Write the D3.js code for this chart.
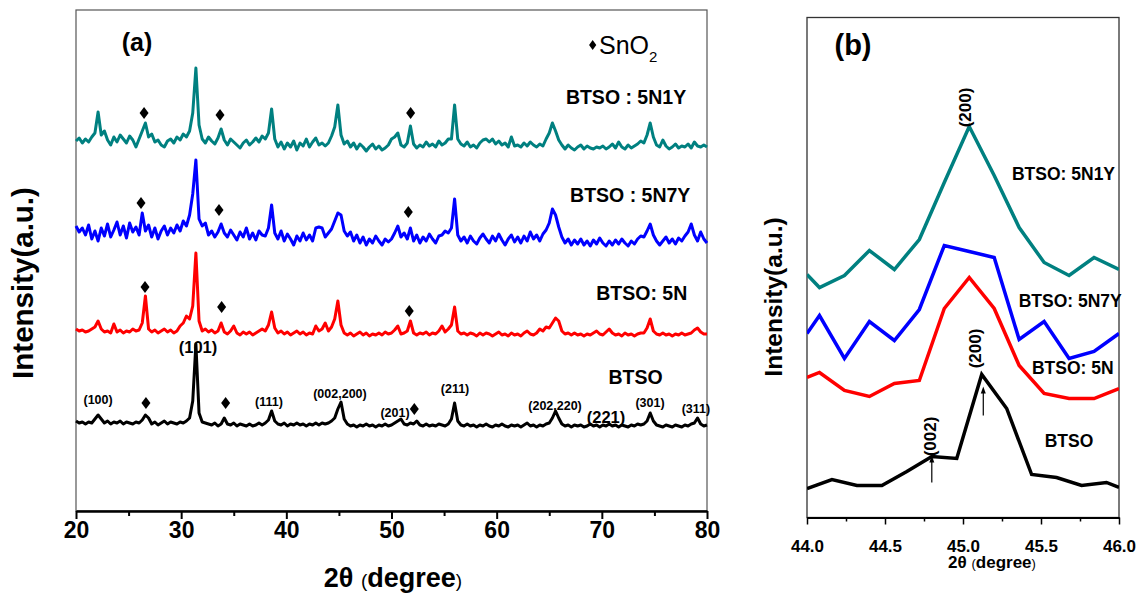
<!DOCTYPE html>
<html>
<head>
<meta charset="utf-8">
<script src="https://cdn.jsdelivr.net/npm/d3@7"></script>
<style>
  body { margin: 0; background: #fff; }
  svg { display: block; font-family: "Liberation Sans", Arial, sans-serif; }
  .narrow { font-family: "Liberation Sans Narrow", "Arial Narrow", "Liberation Sans", sans-serif; }
</style>
</head>
<body>
<svg id="chart" width="1136" height="599"></svg>
<script>
// ---------- panel (a): XRD scans 20-80 deg, step 0.3 deg ----------
const scanStart = 20, scanStep = 0.3;

const series5N1Y = [
  370,373,368,372,369,374,378,399,376,380,371,366,374,369,376,372,368,375,371,364,
  372,380,388,374,377,369,371,366,364,370,372,368,374,371,377,374,380,398,443,386,
  372,368,374,370,367,373,382,371,366,372,369,366,363,368,371,366,369,373,369,375,
  372,378,402,372,364,369,362,368,364,370,361,368,365,372,364,369,373,366,368,365,
  368,375,384,406,376,367,370,364,368,362,367,364,360,364,367,362,365,361,363,366,
  372,374,378,366,364,368,385,367,363,366,364,369,365,367,364,370,366,368,372,372,
  406,372,367,365,369,364,366,363,368,371,372,369,372,367,370,366,368,364,374,365,
  366,364,368,365,369,366,364,367,365,372,378,388,380,371,366,362,366,363,361,364,
  366,362,365,363,362,364,363,365,362,364,367,363,369,364,362,366,363,365,367,370,
  368,376,388,374,366,364,371,365,362,364,367,363,365,364,367,363,369,365,364,366,
  364
];
const series5N7Y = [
  285,279,283,276,286,272,280,270,283,275,287,274,281,289,276,285,273,288,279,284,
  276,298,280,286,274,283,272,280,285,276,283,278,286,280,290,285,296,317,351,292,
  285,288,276,280,274,279,287,278,274,281,276,271,279,274,283,272,278,271,280,276,
  275,283,306,278,272,280,270,277,272,266,275,270,278,271,276,270,283,284,283,274,
  278,282,290,298,296,280,275,279,270,276,268,274,266,272,268,275,270,266,272,269,
  272,278,285,274,278,272,283,270,276,268,274,270,277,272,268,275,276,280,278,283,
  312,276,270,274,268,275,270,267,273,277,272,268,275,270,277,271,266,272,276,269,
  274,268,275,270,279,272,276,270,277,281,288,302,296,284,274,268,272,266,271,267,
  272,266,270,265,271,267,273,268,265,270,266,271,267,272,268,265,270,267,272,275,
  274,280,287,276,270,266,270,274,268,272,267,273,270,275,279,287,276,270,279,272,
  268
];
const series5N = [
  182,180,181,179,180,182,184,190,182,179,180,178,187,179,181,178,180,179,182,180,
  181,188,215,182,179,181,178,180,182,179,181,178,180,185,188,195,192,205,258,190,
  180,182,179,181,178,180,188,179,177,180,185,178,176,179,177,179,176,178,180,182,
  180,186,199,183,178,180,177,179,176,178,180,177,179,176,178,177,185,180,182,188,
  180,184,192,210,186,178,176,178,175,177,179,176,178,175,177,176,178,176,179,177,
  178,181,185,177,178,180,190,178,176,178,177,179,176,178,177,180,185,179,182,186,
  204,180,177,178,176,178,177,175,178,176,178,177,175,177,179,176,177,175,178,176,
  177,175,178,180,177,176,178,182,180,184,183,188,193,190,180,177,178,176,178,176,
  177,175,177,176,178,180,177,176,179,182,178,176,177,175,178,176,177,175,177,178,
  178,183,192,180,177,176,178,176,177,175,177,176,178,176,177,178,181,183,179,177,
  177
];
const seriesBTSO = [
  90,88,89,87,89,88,92,96,92,88,90,87,89,88,90,87,89,88,87,89,
  88,91,96,93,87,89,86,88,90,87,89,88,87,89,88,90,93,110,167,98,
  89,88,87,86,88,85,87,93,87,86,88,85,87,86,85,87,85,86,88,86,
  88,91,100,90,87,86,88,85,87,86,88,86,87,85,87,86,88,86,88,87,
  88,90,93,102,109,92,87,85,86,84,86,85,87,85,86,84,86,85,87,85,
  86,88,90,92,87,86,88,87,90,86,85,87,85,86,85,87,86,85,87,92,
  108,90,86,85,87,85,86,84,86,85,87,85,84,86,85,87,85,84,86,85,
  86,84,86,88,85,86,84,86,85,87,88,93,100,93,87,85,86,84,86,85,
  86,84,85,87,85,86,84,86,85,87,85,86,84,86,85,84,86,85,87,86,
  87,90,98,90,86,85,84,86,85,84,86,85,84,86,85,87,88,93,87,85,
  86
];

const seriesNames = ["BTSO : 5N1Y", "BTSO : 5N7Y", "BTSO: 5N", "BTSO"];
const seriesColors = ["#008080", "#0000ff", "#ff0000", "#000000"];
const nameAngles = [72.3, 72.7, 73.8, 73.2];
const nameLevels = [414, 316, 218, 134];

// SnO2 markers (diamonds)
const snAngles = [26.47, 33.69, 51.82, 26.18, 33.6, 51.6, 26.56, 33.85, 51.69, 26.65, 34.23, 52.17];
const snLevels = [398, 396, 398, 308, 301, 299, 224, 204, 200, 108, 108, 102];

// Miller indices on the BTSO pattern
const hklLabels = ["(100)", "(101)", "(111)", "(002,200)", "(201)", "(211)", "(202,220)", "(221)", "(301)", "(311)"];
const hklAngles = [22.1, 31.6, 38.35, 45.1, 50.33, 56.04, 65.55, 70.4, 74.58, 78.95];
const hklLevels = [111, 164, 109, 117, 98, 122, 105, 94, 108, 102];
const hklBig = [false, true, false, false, false, false, false, true, false, false];

const xTicksA = [20, 30, 40, 50, 60, 70, 80];
const xMinorA = [25, 35, 45, 55, 65, 75];

// ---------- panel (b): zoom on the (200) reflection ----------
const zoomAngles = [44.0, 44.08, 44.24, 44.40, 44.56, 44.72, 44.88, 45.04, 45.20, 45.36, 45.52, 45.68, 45.84, 46.0];
const zoom5N1Y = [243, 230, 242, 267, 248, 278, 335, 391, 342, 290, 255, 242, 260, 248];
const zoom5N7Y = [184, 202, 159, 196, 177, 208, 272, 266, 260, 178, 196, 159, 166, 184];
const zoom5N   = [140, 145, 127, 121, 134, 137, 209, 240, 209, 152, 124, 119, 119, 129];
const zoomAnglesBTSO = [44.0, 44.16, 44.32, 44.48, 44.64, 44.80, 44.96, 45.12, 45.28, 45.44, 45.60, 45.76, 45.92, 46.0];
const zoomBTSO = [29, 38, 32, 32, 46, 61, 59, 143, 109, 43, 40, 32, 35, 30];

const zoomNames = ["BTSO: 5N1Y", "BTSO: 5N7Y", "BTSO: 5N", "BTSO"];
const zoomNameAngles = [45.314, 45.357, 45.442, 45.524];
const zoomNameLevels = [344, 217, 150, 77];

const zoomHkl = ["(200)", "(002)", "(200)"];
const zoomHklAngles = [45.013, 44.79, 45.077];
const zoomHklLevels = [410, 81, 169];

const arrowAngles = [44.8, 45.13];
const arrowFrom = [35, 102];
const arrowTo = [62, 131];

const xTicksB = [44.0, 44.5, 45.0, 45.5, 46.0];
const xMinorB = [44.25, 44.75, 45.25, 45.75];

// ================= drawing =================
const svg = d3.select("#chart");

// ---- panel (a)
const xA = d3.scaleLinear().domain([20, 80]).range([76, 707]);
const yA = d3.scaleLinear().domain([0, 501]).range([511, 10]);
const angles = d3.range(series5N1Y.length).map(i => scanStart + i * scanStep);

const gA = svg.append("g");
gA.append("rect")
  .attr("x", xA(20)).attr("y", yA(501))
  .attr("width", xA(80) - xA(20)).attr("height", yA(0) - yA(501))
  .attr("fill", "none").attr("stroke", "#555").attr("stroke-width", 1.2);

const lineA = d3.line()
  .x((d, i) => xA(angles[i]))
  .y(d => yA(d));

[series5N1Y, series5N7Y, series5N, seriesBTSO].forEach((s, k) => {
  gA.append("path")
    .datum(s)
    .attr("d", lineA)
    .attr("fill", "none")
    .attr("stroke", seriesColors[k])
    .attr("stroke-width", 3)
    .attr("stroke-linejoin", "round");
});

const diamond = "M0,-6L4.5,0L0,6L-4.5,0Z";
gA.selectAll(".sn")
  .data(snAngles)
  .enter().append("path")
  .attr("d", diamond)
  .attr("transform", (d, i) => `translate(${xA(d)},${yA(snLevels[i])})`)
  .attr("fill", "#000");

gA.selectAll(".name")
  .data(seriesNames)
  .enter().append("text")
  .attr("x", (d, i) => xA(nameAngles[i]))
  .attr("y", (d, i) => yA(nameLevels[i]))
  .attr("text-anchor", "middle")
  .attr("dominant-baseline", "central")
  .attr("font-weight", "bold")
  .attr("font-size", 19.5)
  .text(d => d);

gA.selectAll(".hkl")
  .data(hklLabels)
  .enter().append("text")
  .attr("x", (d, i) => xA(hklAngles[i]))
  .attr("y", (d, i) => yA(hklLevels[i]))
  .attr("text-anchor", "middle")
  .attr("dominant-baseline", "central")
  .attr("font-weight", "bold")
  .attr("font-size", (d, i) => hklBig[i] ? 16.5 : 12.5)
  .text(d => d);

// legend: diamond + SnO2
gA.append("path")
  .attr("d", "M0,-5L3.6,0L0,5L-3.6,0Z")
  .attr("transform", `translate(${xA(69.13)},${yA(466)})`);
const sn = gA.append("text")
  .attr("x", xA(69.73)).attr("y", yA(457))
  .attr("font-size", 25);
sn.append("tspan").text("SnO");
sn.append("tspan").attr("dy", 8).attr("font-size", 15).text("2");

gA.append("text")
  .attr("x", 137).attr("y", 42)
  .attr("text-anchor", "middle").attr("dominant-baseline", "central")
  .attr("font-weight", "bold").attr("font-size", 25)
  .text("(a)");

const axA = gA.append("g").attr("transform", `translate(0,${yA(0)})`)
  .call(d3.axisBottom(xA).tickValues(xTicksA).tickSize(8).tickSizeOuter(0).tickPadding(3).tickFormat(d3.format("d")));
gA.append("g").attr("transform", `translate(0,${yA(0)})`)
  .call(d3.axisBottom(xA).tickValues(xMinorA).tickSize(5).tickSizeOuter(0).tickFormat(""))
  .select(".domain").remove();
axA.select(".domain").attr("stroke-width", 2.5);
gA.selectAll(".tick line").attr("stroke-width", 2);
axA.selectAll(".tick text")
  .attr("class", "narrow")
  .attr("font-size", 23).attr("font-weight", "bold").attr("fill", "#000");

const titleA = gA.append("text")
  .attr("class", "narrow")
  .attr("x", 393).attr("y", 587)
  .attr("text-anchor", "middle")
  .attr("font-weight", "bold").attr("font-size", 27);
titleA.append("tspan").text("2θ ");
titleA.append("tspan").attr("font-weight", "normal").attr("font-size", 19).text("(");
titleA.append("tspan").text("degree");
titleA.append("tspan").attr("font-weight", "normal").attr("font-size", 19).text(")");

svg.append("text")
  .attr("transform", "translate(33,283) rotate(-90)")
  .attr("text-anchor", "middle")
  .attr("font-weight", "bold").attr("font-size", 29.5)
  .text("Intensity(a.u.)");

// ---- panel (b)
const xB = d3.scaleLinear().domain([44, 46]).range([807, 1119]);
const yB = d3.scaleLinear().domain([0, 500]).range([517.5, 17.5]);

const gB = svg.append("g");
svg.append("defs").append("clipPath").attr("id", "clipB")
  .append("rect")
  .attr("x", xB(44)).attr("y", yB(500))
  .attr("width", xB(46) - xB(44)).attr("height", yB(0) - yB(500));

gB.append("rect")
  .attr("x", xB(44)).attr("y", yB(500))
  .attr("width", xB(46) - xB(44)).attr("height", yB(0) - yB(500))
  .attr("fill", "none").attr("stroke", "#333").attr("stroke-width", 1.3);

const lines = gB.append("g").attr("clip-path", "url(#clipB)");
[[zoomAngles, zoom5N1Y], [zoomAngles, zoom5N7Y], [zoomAngles, zoom5N], [zoomAnglesBTSO, zoomBTSO]]
  .forEach(([xs, ys], k) => {
    lines.append("path")
      .datum(ys)
      .attr("d", d3.line().x((d, i) => xB(xs[i])).y(d => yB(d)))
      .attr("fill", "none")
      .attr("stroke", seriesColors[k])
      .attr("stroke-width", 3.5)
      .attr("stroke-linejoin", "miter");
  });

gB.selectAll(".zname")
  .data(zoomNames)
  .enter().append("text")
  .attr("x", (d, i) => xB(zoomNameAngles[i]))
  .attr("y", (d, i) => yB(zoomNameLevels[i]))
  .attr("dominant-baseline", "central")
  .attr("font-weight", "bold").attr("font-size", 17.5)
  .text(d => d);

gB.selectAll(".zhkl")
  .data(zoomHkl)
  .enter().append("text")
  .attr("transform", (d, i) => `translate(${xB(zoomHklAngles[i])},${yB(zoomHklLevels[i])}) rotate(-90)`)
  .attr("text-anchor", "middle")
  .attr("dominant-baseline", "central")
  .attr("font-weight", "bold").attr("font-size", 17)
  .text(d => d);

arrowAngles.forEach((a, i) => {
  const x = xB(a), y0 = yB(arrowFrom[i]), y1 = yB(arrowTo[i]);
  gB.append("line").attr("x1", x).attr("x2", x).attr("y1", y0).attr("y2", y1 + 5)
    .attr("stroke", "#000").attr("stroke-width", 1.2);
  gB.append("path").attr("d", `M${x},${y1}L${x - 2.5},${y1 + 7}L${x + 2.5},${y1 + 7}Z`).attr("fill", "#000");
});

gB.append("text")
  .attr("x", 853).attr("y", 45)
  .attr("text-anchor", "middle").attr("dominant-baseline", "central")
  .attr("font-weight", "bold").attr("font-size", 29)
  .text("(b)");

const axB = gB.append("g").attr("transform", `translate(0,${yB(0)})`)
  .call(d3.axisBottom(xB).tickValues(xTicksB).tickSize(7).tickSizeOuter(0).tickPadding(15).tickFormat(d3.format(".1f")));
gB.append("g").attr("transform", `translate(0,${yB(0)})`)
  .call(d3.axisBottom(xB).tickValues(xMinorB).tickSize(4).tickSizeOuter(0).tickFormat(""))
  .select(".domain").remove();
axB.select(".domain").attr("stroke-width", 2);
gB.selectAll(".tick line").attr("stroke-width", 1.5);
axB.selectAll(".tick text")
  .attr("font-size", 17).attr("font-weight", "bold").attr("fill", "#000");

const titleB = gB.append("text")
  .attr("x", 992).attr("y", 568)
  .attr("text-anchor", "middle")
  .attr("font-weight", "bold").attr("font-size", 17);
titleB.append("tspan").text("2θ ");
titleB.append("tspan").attr("font-weight", "normal").attr("font-size", 13).text("(");
titleB.append("tspan").text("degree");
titleB.append("tspan").attr("font-weight", "normal").attr("font-size", 13).text(")");

svg.append("text")
  .attr("transform", "translate(782,297) rotate(-90)")
  .attr("text-anchor", "middle")
  .attr("font-weight", "bold").attr("font-size", 24.5)
  .text("Intensity(a.u.)");
</script>
</body>
</html>
